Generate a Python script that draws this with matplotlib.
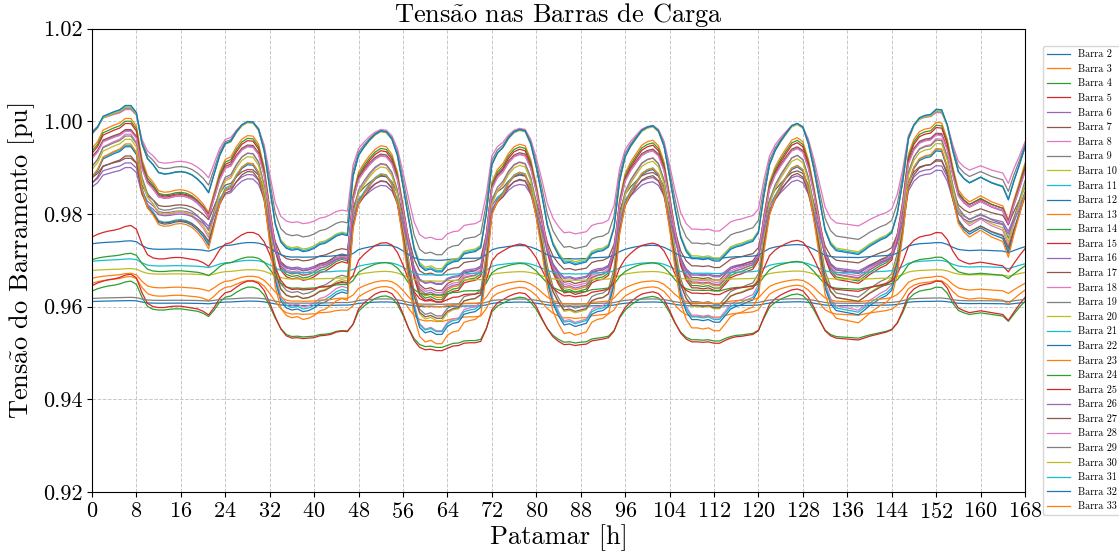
import numpy as np
import matplotlib
matplotlib.use("Agg")
import matplotlib.pyplot as plt

plt.rcParams["font.family"] = "serif"
plt.rcParams["font.serif"] = ["cmr10"]
plt.rcParams["mathtext.fontset"] = "cm"
plt.rcParams["axes.formatter.use_mathtext"] = True
plt.rcParams["axes.unicode_minus"] = False

v_ref_sup = [
    0.9972, 0.9985, 1.0008, 1.0013, 1.0018, 1.0022, 1.0031, 1.0031, 1.0016, 0.9950,
    0.9918, 0.9905, 0.9888, 0.9885, 0.9886, 0.9889, 0.9890, 0.9888, 0.9883, 0.9874,
    0.9862, 0.9845, 0.9885, 0.9925, 0.9950, 0.9955, 0.9975, 0.9990, 0.9997, 0.9996,
    0.9980, 0.9935, 0.9855, 0.9778, 0.9740, 0.9727, 0.9723, 0.9725, 0.9720, 0.9722,
    0.9727, 0.9735, 0.9738, 0.9745, 0.9753, 0.9757, 0.9754, 0.9880, 0.9925, 0.9943,
    0.9958, 0.9970, 0.9977, 0.9975, 0.9960, 0.9925, 0.9860, 0.9790, 0.9725, 0.9690,
    0.9680, 0.9683, 0.9677, 0.9677, 0.9692, 0.9698, 0.9700, 0.9715, 0.9718, 0.9720,
    0.9728, 0.9800, 0.9905, 0.9930, 0.9942, 0.9962, 0.9975, 0.9980, 0.9977, 0.9950,
    0.9900, 0.9840, 0.9775, 0.9735, 0.9712, 0.9695, 0.9697, 0.9692, 0.9695, 0.9698,
    0.9715, 0.9720, 0.9722, 0.9730, 0.9770, 0.9870, 0.9922, 0.9945, 0.9962, 0.9978,
    0.9985, 0.9988, 0.9977, 0.9945, 0.9880, 0.9810, 0.9750, 0.9720, 0.9705, 0.9705,
    0.9703, 0.9705, 0.9700, 0.9700, 0.9712, 0.9725, 0.9730, 0.9733, 0.9738, 0.9742,
    0.9760, 0.9840, 0.9905, 0.9935, 0.9955, 0.9972, 0.9988, 0.9993, 0.9985, 0.9950,
    0.9895, 0.9830, 0.9765, 0.9735, 0.9722, 0.9720, 0.9718, 0.9716, 0.9714, 0.9722,
    0.9731, 0.9738, 0.9745, 0.9750, 0.9760, 0.9800, 0.9870, 0.9960, 0.9990, 1.0005,
    1.0010, 1.0012, 1.0023, 1.0022, 0.9990, 0.9935, 0.9890, 0.9875, 0.9866, 0.9872,
    0.9878, 0.9872, 0.9866, 0.9862, 0.9858, 0.9830, 0.9870, 0.9905, 0.9943,
]

v_ref_inf = [
    0.9645, 0.9651, 0.9655, 0.9658, 0.9660, 0.9663, 0.9668, 0.9670, 0.9662, 0.9630,
    0.9607, 0.9600, 0.9598, 0.9598, 0.9600, 0.9601, 0.9601, 0.9599, 0.9597, 0.9595,
    0.9590, 0.9582, 0.9598, 0.9618, 0.9630, 0.9633, 0.9642, 0.9650, 0.9655, 0.9655,
    0.9650, 0.9635, 0.9608, 0.9578, 0.9552, 0.9537, 0.9532, 0.9533, 0.9531, 0.9532,
    0.9533, 0.9537, 0.9538, 0.9540, 0.9545, 0.9547, 0.9546, 0.9562, 0.9595, 0.9608,
    0.9618, 0.9627, 0.9632, 0.9633, 0.9628, 0.9612, 0.9585, 0.9553, 0.9527, 0.9512,
    0.9507, 0.9508, 0.9505, 0.9505, 0.9510, 0.9515, 0.9516, 0.9521, 0.9522, 0.9522,
    0.9525, 0.9552, 0.9593, 0.9608, 0.9615, 0.9622, 0.9627, 0.9630, 0.9628, 0.9617,
    0.9600, 0.9575, 0.9552, 0.9535, 0.9525, 0.9518, 0.9519, 0.9516, 0.9518, 0.9519,
    0.9526, 0.9528, 0.9530, 0.9533, 0.9547, 0.9578, 0.9598, 0.9610, 0.9620, 0.9627,
    0.9630, 0.9632, 0.9628, 0.9615, 0.9592, 0.9565, 0.9543, 0.9530, 0.9524, 0.9524,
    0.9523, 0.9524, 0.9521, 0.9521, 0.9527, 0.9532, 0.9535, 0.9536, 0.9538, 0.9540,
    0.9548, 0.9578, 0.9605, 0.9617, 0.9625, 0.9631, 0.9636, 0.9638, 0.9634, 0.9620,
    0.9598, 0.9572, 0.9548, 0.9537, 0.9532, 0.9531, 0.9530, 0.9529, 0.9528, 0.9532,
    0.9536, 0.9539, 0.9542, 0.9545, 0.9550, 0.9565, 0.9592, 0.9625, 0.9638, 0.9645,
    0.9648, 0.9650, 0.9655, 0.9654, 0.9640, 0.9615, 0.9597, 0.9591, 0.9587, 0.9589,
    0.9591, 0.9589, 0.9587, 0.9585, 0.9583, 0.9570, 0.9588, 0.9605, 0.9620,
]

barras = list(range(2, 34))
# grupo de cada barra: "s" segue o perfil superior, "i" o inferior
grupo = ["i", "i", "i", "i", "s", "s", "s", "s", "s", "s",
         "s", "s", "s", "s", "s", "s", "s", "i", "i", "i",
         "i", "i", "i", "i", "s", "s", "s", "s", "s", "s",
         "s", "s"]
# tensao no patamar de carga leve (h=7) e pesada (h=60)
v_pico = [0.9613, 0.9665, 0.9655, 0.9670, 0.9910, 0.9920, 0.9972, 0.9968, 0.9961, 0.9948,
          0.9945, 1.0006, 1.0000, 0.9995, 0.9980, 0.9982, 0.9978, 0.9620, 0.9682, 0.9703,
          0.9742, 0.9672, 0.9715, 0.9775, 0.9900, 0.9925, 1.0025, 1.0028, 1.0030, 1.0033,
          1.0034, 0.9951]
v_vale = [0.9600, 0.9568, 0.9512, 0.9505, 0.9650, 0.9668, 0.9548, 0.9580, 0.9570, 0.9546,
          0.9540, 0.9620, 0.9615, 0.9610, 0.9625, 0.9635, 0.9630, 0.9605, 0.9655, 0.9668,
          0.9700, 0.9600, 0.9625, 0.9610, 0.9648, 0.9575, 0.9745, 0.9712, 0.9682, 0.9678,
          0.9675, 0.9520]

ref = {"s": np.array(v_ref_sup), "i": np.array(v_ref_inf)}
horas = np.arange(len(v_ref_sup))

fig = plt.figure(figsize=(11.19, 5.55), dpi=100)
ax = fig.add_axes([0.0822, 0.1135, 0.8338, 0.8351])

for b, g, vp, vv in zip(barras, grupo, v_pico, v_vale):
    r = ref[g]
    frac = (r.max() - r) / (r.max() - r.min())
    v = vp - (vp - vv) * frac
    ax.plot(horas, v, lw=0.9, label=f"Barra {b}")

ax.set_xlim(0, 168)
ax.set_ylim(0.92, 1.02)
ax.set_xticks(np.arange(0, 169, 8))
ax.set_yticks(np.arange(0.92, 1.021, 0.02))
ax.yaxis.set_major_formatter(matplotlib.ticker.FormatStrFormatter("%.2f"))
ax.tick_params(labelsize=16)
ax.grid(True, linestyle="--", color="#c8c8c8", linewidth=0.7)

ax.set_title("Tens" + r"$\tilde{\mathrm{a}}$" + "o nas Barras de Carga", fontsize=19, pad=5)
ax.set_xlabel("Patamar [h]", fontsize=19, labelpad=2)
ax.set_ylabel("Tens" + r"$\tilde{\mathrm{a}}$" + "o do Barramento [pu]", fontsize=19)

ax.legend(loc="upper left", bbox_to_anchor=(1.019, 0.963), fontsize=7.3,
          handlelength=2.3, labelspacing=0.50, borderaxespad=0)

fig.savefig("out.png", dpi=100)
